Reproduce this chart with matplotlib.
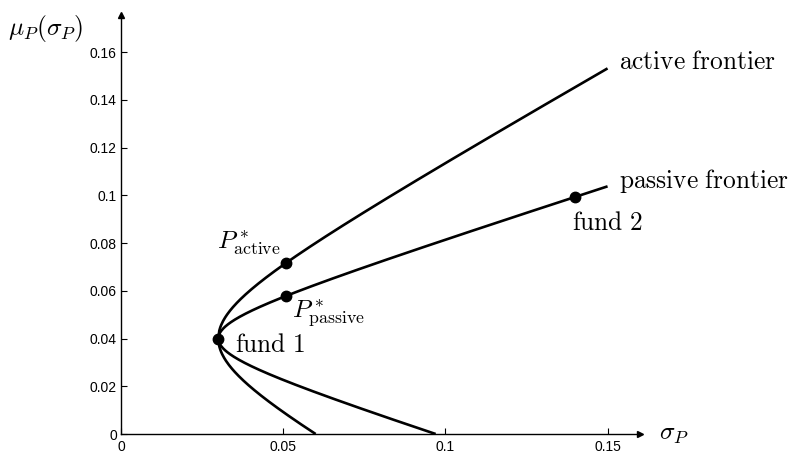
import matplotlib.pyplot as plt
import numpy as np

plt.rcParams['mathtext.fontset'] = 'cm'
plt.rcParams['font.family'] = ['Liberation Sans', 'DejaVu Sans']

# Fondos y carteras (sigma, mu)
fondo1 = (0.03, 0.04)
fondo2 = (0.14, 0.0993)
sigma_opt = 0.051

# Frontera: sigma^2 = sigma0^2 + ((mu - mu0)/k)^2, vértice en el fondo 1
# sigma donde la rama inferior corta mu = 0
corte_activa = 0.06
corte_pasiva = 0.097
sigma_max = 0.15

xticks = [0, 0.05, 0.1, 0.15]
xtick_labels = ['0', '0.05', '0.1', '0.15']
yticks = [0, 0.02, 0.04, 0.06, 0.08, 0.1, 0.12, 0.14, 0.16]
ytick_labels = ['0', '0.02', '0.04', '0.06', '0.08', '0.1', '0.12', '0.14', '0.16']


def pendiente(corte):
    s0, m0 = fondo1
    return m0 / np.sqrt(corte**2 - s0**2)


def frontera(k):
    s0, m0 = fondo1
    s = np.linspace(s0, sigma_max, 400)
    d = k * np.sqrt(s**2 - s0**2)
    s_inf = np.sqrt(s0**2 + (m0 / k)**2)
    mask = s <= s_inf + 1e-12
    s_low = np.append(s[mask], s_inf)
    m_low = np.append(m0 - d[mask], 0)
    x = np.concatenate([s_low[::-1], s])
    y = np.concatenate([m_low[::-1], m0 + d])
    return x, y


def mu(k, s):
    return fondo1[1] + k * np.sqrt(s**2 - fondo1[0]**2)


k_act = pendiente(corte_activa)
k_pas = pendiente(corte_pasiva)

fig = plt.figure(figsize=(7.91, 4.54), dpi=100)
ax = fig.add_axes([121 / 791, 20 / 454, 519 / 791, 419 / 454])

for k in (k_act, k_pas):
    x, y = frontera(k)
    ax.plot(x, y, color='black', linewidth=1.9, solid_capstyle='butt')

puntos_x = [fondo1[0], sigma_opt, sigma_opt, fondo2[0]]
puntos_y = [fondo1[1], mu(k_act, sigma_opt), mu(k_pas, sigma_opt), mu(k_pas, fondo2[0])]
ax.plot(puntos_x, puntos_y, 'o', color='black', markersize=7.5)

ax.set_xlim(0, 0.160)
ax.set_ylim(0, 0.1755)

# Ejes con flechas
for s in ('top', 'right'):
    ax.spines[s].set_visible(False)
for s in ('left', 'bottom'):
    ax.spines[s].set_linewidth(1.0)
ax.plot(1, 0, '>k', transform=ax.transAxes, clip_on=False, markersize=5)
ax.plot(0, 1, '^k', transform=ax.transAxes, clip_on=False, markersize=5)

ax.set_xticks(xticks)
ax.set_xticklabels(xtick_labels)
ax.set_yticks(yticks)
ax.set_yticklabels(ytick_labels)
ax.tick_params(direction='in', length=4, width=0.8, labelsize=10)
ax.tick_params(axis='x', pad=4)
ax.tick_params(axis='y', pad=3)

tf = 18.3
ax.text(0.1534, 0.1558, r'$\mathrm{active\ frontier}$', fontsize=tf, va='center')
ax.text(0.1534, 0.1060, r'$\mathrm{passive\ frontier}$', fontsize=tf, va='center')
ax.text(0.0352, 0.0373, r'$\mathrm{fund\ 1}$', fontsize=tf, va='center')
ax.text(0.1389, 0.0884, r'$\mathrm{fund\ 2}$', fontsize=tf, va='center')
ax.text(0.0295, 0.0800, r'$P^*_{\mathrm{active}}$', fontsize=tf, va='center')
ax.text(0.0528, 0.0507, r'$P^*_{\mathrm{passive}}$', fontsize=tf, va='center')
fig.text(8 / 791, 1 - 28 / 454, r'$\mu_P(\sigma_P)$', fontsize=tf, va='center')
fig.text(659 / 791, 1 - 434 / 454, r'$\sigma_P$', fontsize=tf, va='center')

fig.savefig('out.png', dpi=100)
